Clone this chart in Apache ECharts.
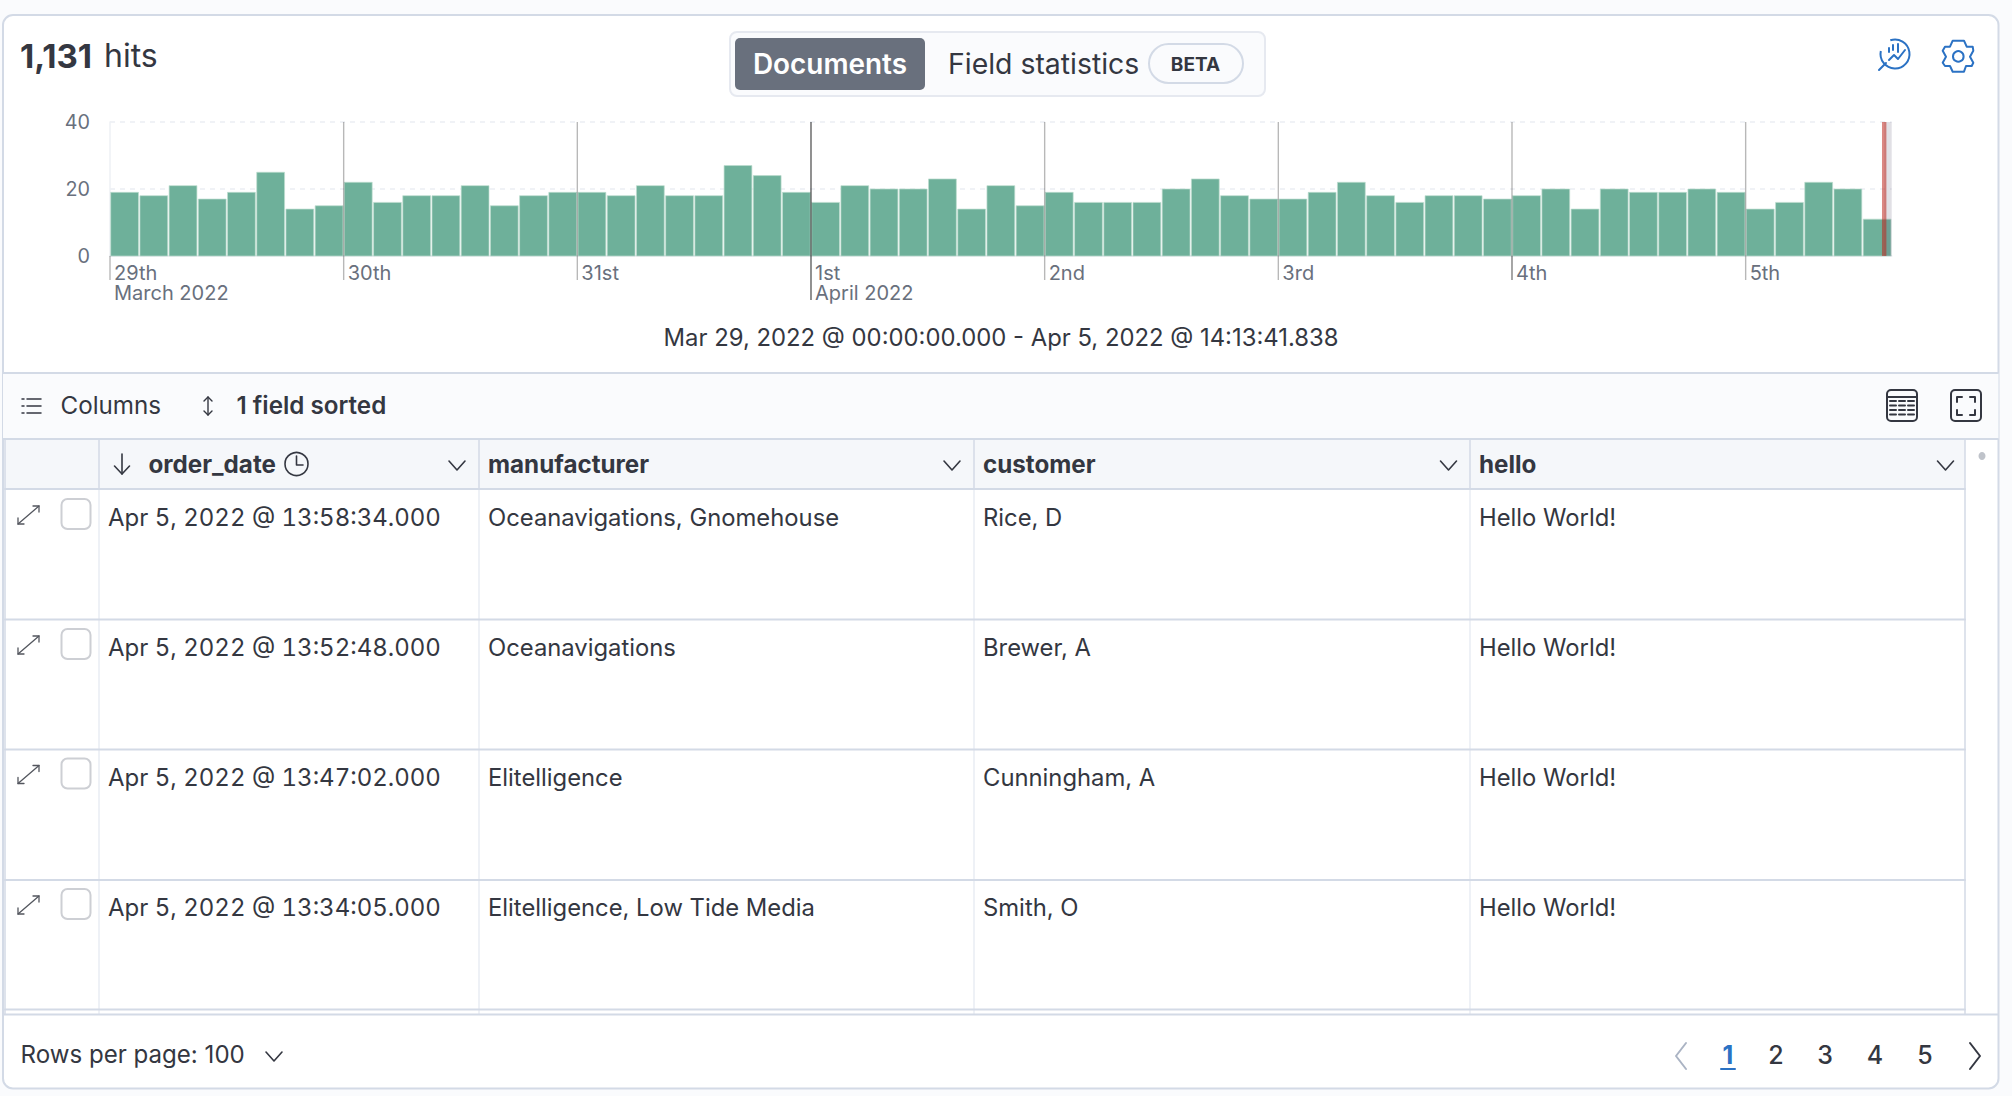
<!DOCTYPE html>
<html><head><meta charset="utf-8">
<style>html,body{margin:0;padding:0;background:#fafbfd}#c{width:2012px;height:1096px}</style>
<script src="https://cdn.jsdelivr.net/npm/echarts@6/dist/echarts.min.js"></script>
</head><body><div id="c"></div>
<script>
// ---------- data ----------
const hitsTitle = '1,131';
const hitsUnit = 'hits';
const hits = [19,18,21,17,19,25,14,15, 22,16,18,18,21,15,18,19, 19,18,21,18,18,27,24,19, 16,21,20,20,23,14,21,15,
              19,16,16,16,20,23,18,17, 17,19,22,18,16,18,18,17, 18,20,14,20,19,19,20,19, 14,16,22,20,11];
const dayLabels = ['29th','30th','31st','1st','2nd','3rd','4th','5th'];
const monthLabels = ['March 2022','','','April 2022','','','',''];
const yTicks = [0,20,40];
const rangeText = 'Mar 29, 2022 @ 00:00:00.000 - Apr 5, 2022 @ 14:13:41.838';
const columns = ['order_date','manufacturer','customer','hello'];
const rowDates = ['Apr 5, 2022 @ 13:58:34.000','Apr 5, 2022 @ 13:52:48.000','Apr 5, 2022 @ 13:47:02.000','Apr 5, 2022 @ 13:34:05.000'];
const rowManufacturers = ['Oceanavigations, Gnomehouse','Oceanavigations','Elitelligence','Elitelligence, Low Tide Media'];
const rowCustomers = ['Rice, D','Brewer, A','Cunningham, A','Smith, O'];
const rowHello = ['Hello World!','Hello World!','Hello World!','Hello World!'];
const pages = ['1','2','3','4','5'];

// ---------- time scale ----------
const HOUR = 3600000, DAY = 24*HOUR, BIN = 3*HOUR;
const t0 = Date.UTC(2022,2,29), tEnd = Date.UTC(2022,3,5,15), tNow = Date.UTC(2022,3,5,14,13,41,838);
const barData = hits.map((v,i)=>[t0+i*BIN, t0+(i+1)*BIN, v]);
const dayData = dayLabels.map((_,i)=>[t0+i*DAY, i]);

// ---------- styles ----------
const FF = 'Inter, "Noto Sans", sans-serif';
const INK = '#343741', AXIS = '#69707d', BORDER = '#d3dae6', SOFT = '#e9edf3', BLUE = '#2b72c4';
const G = [];
const T = (text,x,y,o={}) => G.push({type:'text',silent:true,style:Object.assign({text,x,y,fontFamily:FF,fontSize:23.8,fill:INK,textVerticalAlign:'middle',textAlign:'left'},o)});
const R = (x,y,w,h,r,fill,stroke,lw=2) => G.push({type:'rect',silent:true,shape:{x,y,width:w,height:h,r},style:{fill:fill||'none',stroke:stroke||'none',lineWidth:lw}});
const L = (pts,stroke,lw=2) => G.push({type:'polyline',silent:true,shape:{points:pts},style:{fill:'none',stroke,lineWidth:lw,lineCap:'round',lineJoin:'round'}});
const C = (cx,cy,r,fill,stroke,lw=2) => G.push({type:'circle',silent:true,shape:{cx,cy,r},style:{fill:fill||'none',stroke:stroke||'none',lineWidth:lw}});
const chevron = (x,y,c=INK) => L([[x-8,y-4],[x,y+5],[x+8,y-4]],c,1.6);

// ---------- page chrome ----------
R(3,15,1995.5,1073.5,10,'#ffffff',BORDER,2);
T(hitsTitle,20,55.5,{fontSize:33,fontWeight:700});
T(hitsUnit,104,55.5,{fontSize:32});
R(730,32,535,64,7,'#fafbfd','#e6e9f0',2);
R(735,38,190,52,5,'#69707d');
T('Documents',830,64,{fontSize:27.9,fontWeight:600,fill:'#fff',textAlign:'center'});
T('Field statistics',948,63.5,{fontSize:28.4});
R(1149,44,94,39,19.5,'#fafbfd',BORDER,2);
T('BETA',1195.5,64,{fontSize:19,fontWeight:700,textAlign:'center'});
// inspect icon
G.push({type:'arc',silent:true,shape:{cx:1895,cy:54,r:14.5,startAngle:-1.9,endAngle:3.35},style:{fill:'none',stroke:BLUE,lineWidth:2}});
L([[1879,70],[1886,63]],BLUE,2);
L([[1889,60],[1894,55],[1898,59],[1905,50]],BLUE,2);
L([[1889,52],[1889,48]],BLUE,2); L([[1893,50],[1893,45]],BLUE,2); L([[1898,52],[1898,44]],BLUE,2);
// gear icon
L([[1952.7,40.7],[1964,40.7],[1966.7,46.7],[1972.7,46.7],[1973.3,50.7],[1970,56.7],[1973.3,62.7],[1971.7,66],[1966,66],[1964,71.7],[1952.7,71.7],[1950,66],[1945,66],[1942.7,62.7],[1946,56.7],[1942.7,50.7],[1945,46.7],[1950,46.7],[1952.7,40.7]],BLUE,2);
C(1958.3,56.4,5.3,null,BLUE,2);
T(rangeText,1001,337,{fontSize:23.85,textAlign:'center'});

// toolbar
R(3,373,1995.5,66,0,'#fafbfd');
L([[3,373],[1998,373]],BORDER,2);
L([[3,439],[1998,439]],BORDER,2);
[399,406,413].forEach(y=>{L([[27,y],[41,y]],INK,1.5);L([[22,y],[24,y]],INK,1.5);});
T('Columns',60.5,405,{fontSize:24.2});
L([[208,397],[208,415]],INK,1.4); L([[204,401],[208,397],[212,401]],INK,1.4); L([[204,411],[208,415],[212,411]],INK,1.4);
T('1 field sorted',236.5,405,{fontWeight:600,fontSize:24.2});
R(1887,390,30,31,4,null,INK,2); L([[1887,397],[1917,397]],INK,2);
[401,405.5,410,414.5].forEach(y=>{[[1890,1896],[1899,1905],[1908,1914]].forEach(p=>L([[p[0],y],[p[1],y]],INK,2));});
R(1951,390,30,31,4,null,INK,2);
L([[1957,402],[1957,397],[1962,397]],INK,2);L([[1970,397],[1975,397],[1975,402]],INK,2);
L([[1957,410],[1957,415],[1962,415]],INK,2);L([[1970,415],[1975,415],[1975,410]],INK,2);

// table
R(5,440,1960,49,0,'#f5f7fa');
const colLines = [99,479,974,1470];
const colText = [108.5,488,983,1479];
const chevronX = [457,952,1448.5,1945.5];
const rowY = [517.5,647.5,777,907.5];
const rowLine = [489,619.5,749.5,880,1009.5];
colLines.forEach(x=>{L([[x,440],[x,489]],BORDER,1.5);L([[x,489],[x,1014.5]],SOFT,1.5);});
rowLine.forEach(y=>L([[5,y],[1965,y]],BORDER,2));
L([[5,439],[5,1014.5]],BORDER,1.5);
L([[1965,440],[1965,1014.5]],BORDER,1.5);
L([[3,1014.5],[1998,1014.5]],BORDER,2);
columns.forEach((c,i)=>{ T(c,i===0?148.5:colText[i],464.2,{fontWeight:700,fontSize:24.2}); chevron(chevronX[i],465); });
L([[122,454],[122,474]],INK,1.6); L([[114.5,466],[122,474],[129.5,466]],INK,1.6);
C(296.5,464,11.5,null,INK,1.6); L([[296.5,456],[296.5,465],[303,465]],INK,1.6);
rowY.forEach((y,i)=>{
  const d=y-517.5;
  L([[18,524+d],[39,506+d]],'#53565e',1.3);
  L([[33,506+d],[39,506+d],[39,512+d]],'#53565e',1.3);
  L([[18,518+d],[18,524+d],[24,524+d]],'#53565e',1.3);
  R(61.5,499+d,29,30,6,'#fff','#cdcfd4',2);
  T(rowDates[i],108,y,{fontSize:24});
  T(rowManufacturers[i],488,y);
  T(rowCustomers[i],983,y);
  T(rowHello[i],1479,y);
});
G.push({type:'ellipse',silent:true,shape:{cx:1982,cy:456,rx:3.5,ry:4},style:{fill:'#bfc3ca'}});

// footer
T('Rows per page: 100',20.5,1054.5,{fontSize:24.1});
chevron(274,1056);
L([[1686,1043],[1676,1056],[1686,1069]],'#abb4c4',2);
L([[1970,1043],[1980,1056],[1970,1069]],INK,2);
[1728,1776,1825,1875,1925].forEach((x,i)=>T(pages[i],x,1055,{textAlign:'center',fontSize:25,fontWeight:i?500:700,fill:i?INK:BLUE}));
L([[1721,1069],[1735,1069]],BLUE,2);

// ---------- chart ----------
const renderBar = (p,api)=>{
  const a=api.coord([api.value(0),0]), b=api.coord([api.value(1),api.value(2)]);
  return {type:'rect',shape:{x:a[0]+.7,y:b[1],width:b[0]-a[0]-1.4,height:a[1]-b[1]},
    style:{fill:'#6eb09a',stroke:'#bddccf',lineWidth:.7}};
};
const renderDay = (p,api)=>{
  const i=api.value(1), top=api.coord([api.value(0),40]), bot=api.coord([api.value(0),0]);
  const children=[];
  const line=(y1,y2,c)=>children.push({type:'line',shape:{x1:top[0],y1,x2:top[0],y2},style:{stroke:c,lineWidth:1.4}});
  if(i>0) line(top[1],bot[1], i===3?'rgba(0,0,0,.62)':'rgba(0,0,0,.28)');
  const tick = i===3?bot[1]+44:bot[1]+24;
  line(bot[1],tick, i===3?'rgba(0,0,0,.62)':(i===6?'rgba(0,0,0,.5)':'rgba(0,0,0,.28)'));
  return {type:'group',children};
};
const renderNow = (p,api)=>{
  const a=api.coord([api.value(0),40]), b=api.coord([api.value(1),0]);
  return {type:'group',children:[
    {type:'rect',shape:{x:a[0],y:a[1],width:b[0]-a[0],height:b[1]-a[1]},style:{fill:'rgba(105,100,125,.2)'}},
    {type:'rect',shape:{x:a[0]-2.2,y:a[1],width:4.4,height:b[1]-a[1]},style:{fill:'rgba(189,39,30,.55)'}}
  ]};
};
const chart = echarts.init(document.getElementById('c'),null,{renderer:'svg',width:2012,height:1096});
chart.on('finished',()=>{
  document.querySelectorAll('#c svg text').forEach(n=>{
    if(rowDates.includes(n.textContent)) n.style.fontVariantNumeric='tabular-nums';
  });
});
chart.setOption({
  animation:false,
  backgroundColor:'#fafbfd',
  textStyle:{fontFamily:FF},
  grid:{left:110,top:122,width:1781.7,height:134,containLabel:false},
  xAxis:{type:'time',min:t0,max:tEnd,minInterval:DAY,maxInterval:DAY,
    axisLine:{show:true,lineStyle:{color:'#e6e8ee',width:1.5}},
    axisTick:{show:false},splitLine:{show:false},
    axisLabel:{show:true,showMinLabel:true,showMaxLabel:false,hideOverlap:false,align:'left',verticalAlign:'top',
      margin:7,padding:[0,0,0,4],color:AXIS,fontSize:20,lineHeight:20,fontFamily:FF,
      formatter:(v)=>{const d=Math.round((v-t0)/DAY);
        if((v-t0)%DAY!==0||!dayLabels[d])return '';
        return monthLabels[d]?dayLabels[d]+'\n'+monthLabels[d]:dayLabels[d];}}},
  yAxis:{type:'value',min:yTicks[0],max:yTicks[2],interval:yTicks[1],
    axisLine:{show:true,lineStyle:{color:'#eef0f5',width:1.5}},axisTick:{show:false},
    axisLabel:{color:AXIS,fontSize:19.8,margin:20,fontFamily:FF,verticalAlign:'middle',padding:[0,0,5,0]},
    splitLine:{show:true,lineStyle:{color:'#eceef4',width:1.6,type:[5,5]}}},
  series:[
    {type:'custom',name:'hits',clip:false,z:3,renderItem:renderBar,encode:{x:[0,1],y:2},data:barData},
    {type:'custom',name:'days',clip:false,z:4,renderItem:renderDay,encode:{x:0},data:dayData},
    {type:'custom',name:'now',clip:false,z:5,renderItem:renderNow,encode:{x:[0,1]},data:[[tNow,tEnd]]}
  ],
  graphic:{elements:G}
});
</script></body></html>
